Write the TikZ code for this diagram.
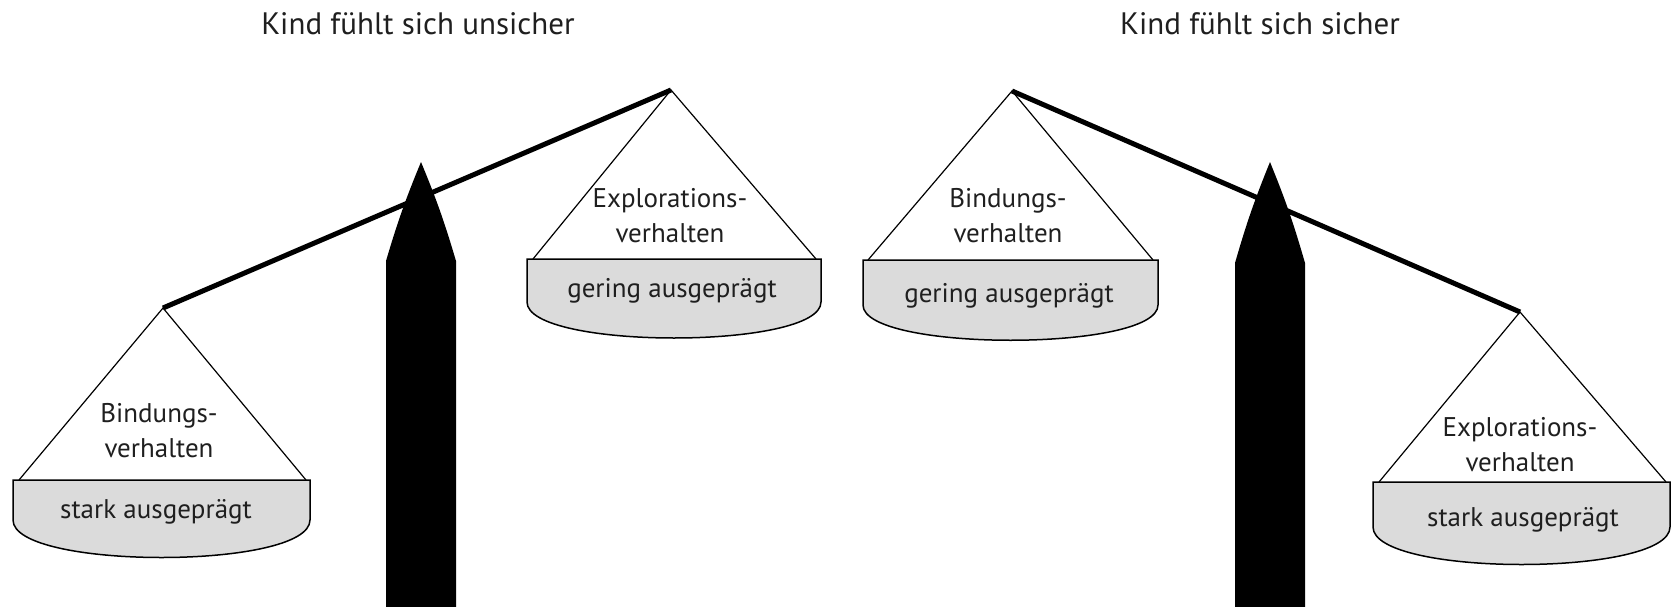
\documentclass[tikz,border=0pt]{standalone}
\usepackage{fontspec}
\setmainfont{PT Sans}
\usetikzlibrary{calc}
\definecolor{pangray}{gray}{0.86}
\definecolor{textgray}{gray}{0.12}
\tikzset{
  beam/.style={line width=5pt},
  hanger/.style={line width=1.2pt},
  pan/.style={fill=pangray, draw=black, line width=1.5pt},
  post/.style={fill=black},
  title/.style={text=textgray, font=\fontsize{31}{34}\selectfont},
  lbl/.style={text=textgray, font=\fontsize{27}{35}\selectfont, align=center},
}

\begin{document}
\begin{tikzpicture}[x=1pt,y=-1pt]
        \useasboundingbox (0,0) rectangle (1672,607);
        % Kind fuehlt sich unsicher
        \node[title] (titleL) at (418,24) {Kind fühlt sich unsicher};
        \coordinate (beamL1) at (163,308);
        \coordinate (beamL2) at (671,90);
        \coordinate (panL1a) at (19,480);
        \coordinate (panL1b) at (306,480);
        \coordinate (panL2a) at (533,259);
        \coordinate (panL2b) at (816,259);
        \filldraw[pan] (13,480) -- (13,520) .. controls (13,570) and (310,570) .. (310,520) -- (310,480) -- cycle;
        \filldraw[pan] (527,259) -- (527,302) .. controls (527,350) and (821,350) .. (821,302) -- (821,259) -- cycle;
        \draw[hanger] (panL1a) -- (beamL1) -- (panL1b);
        \draw[hanger] (panL2a) -- (beamL2) -- (panL2b);
        \fill[post] (421,162) to[bend left=3] (456,261) -- (456,607) -- (386,607) -- (386,261) to[bend left=3] cycle;
        \draw[beam] (beamL1) -- (beamL2);
        \node[lbl] (bindL) at (159,431) {Bindungs-\\verhalten};
        \node[lbl] (starkL) at (156,512) {stark ausgeprägt};
        \node[lbl] (explL) at (670,216) {Explorations-\\verhalten};
        \node[lbl] (geringL) at (672,291) {gering ausgeprägt};
        % Kind fuehlt sich sicher
        \node[title] (titleR) at (1260,24) {Kind fühlt sich sicher};
        \coordinate (beamR1) at (1012,91);
        \coordinate (beamR2) at (1520,312);
        \coordinate (panR1a) at (868,260);
        \coordinate (panR1b) at (1153,260);
        \coordinate (panR2a) at (1379,482);
        \coordinate (panR2b) at (1666,482);
        \filldraw[pan] (863,260) -- (863,305) .. controls (863,352) and (1158,352) .. (1158,305) -- (1158,260) -- cycle;
        \filldraw[pan] (1373,482) -- (1373,527) .. controls (1373,577) and (1670,577) .. (1670,527) -- (1670,482) -- cycle;
        \draw[hanger] (panR1a) -- (beamR1) -- (panR1b);
        \draw[hanger] (panR2a) -- (beamR2) -- (panR2b);
        \fill[post] (1270,162) to[bend left=3] (1305,263) -- (1305,607) -- (1235,607) -- (1235,263) to[bend left=3] cycle;
        \draw[beam] (beamR1) -- (beamR2);
        \node[lbl] (bindR) at (1008,216) {Bindungs-\\verhalten};
        \node[lbl] (geringR) at (1009,296) {gering ausgeprägt};
        \node[lbl] (explR) at (1520,445) {Explorations-\\verhalten};
        \node[lbl] (starkR) at (1523,520) {stark ausgeprägt};
\end{tikzpicture}
\end{document}
